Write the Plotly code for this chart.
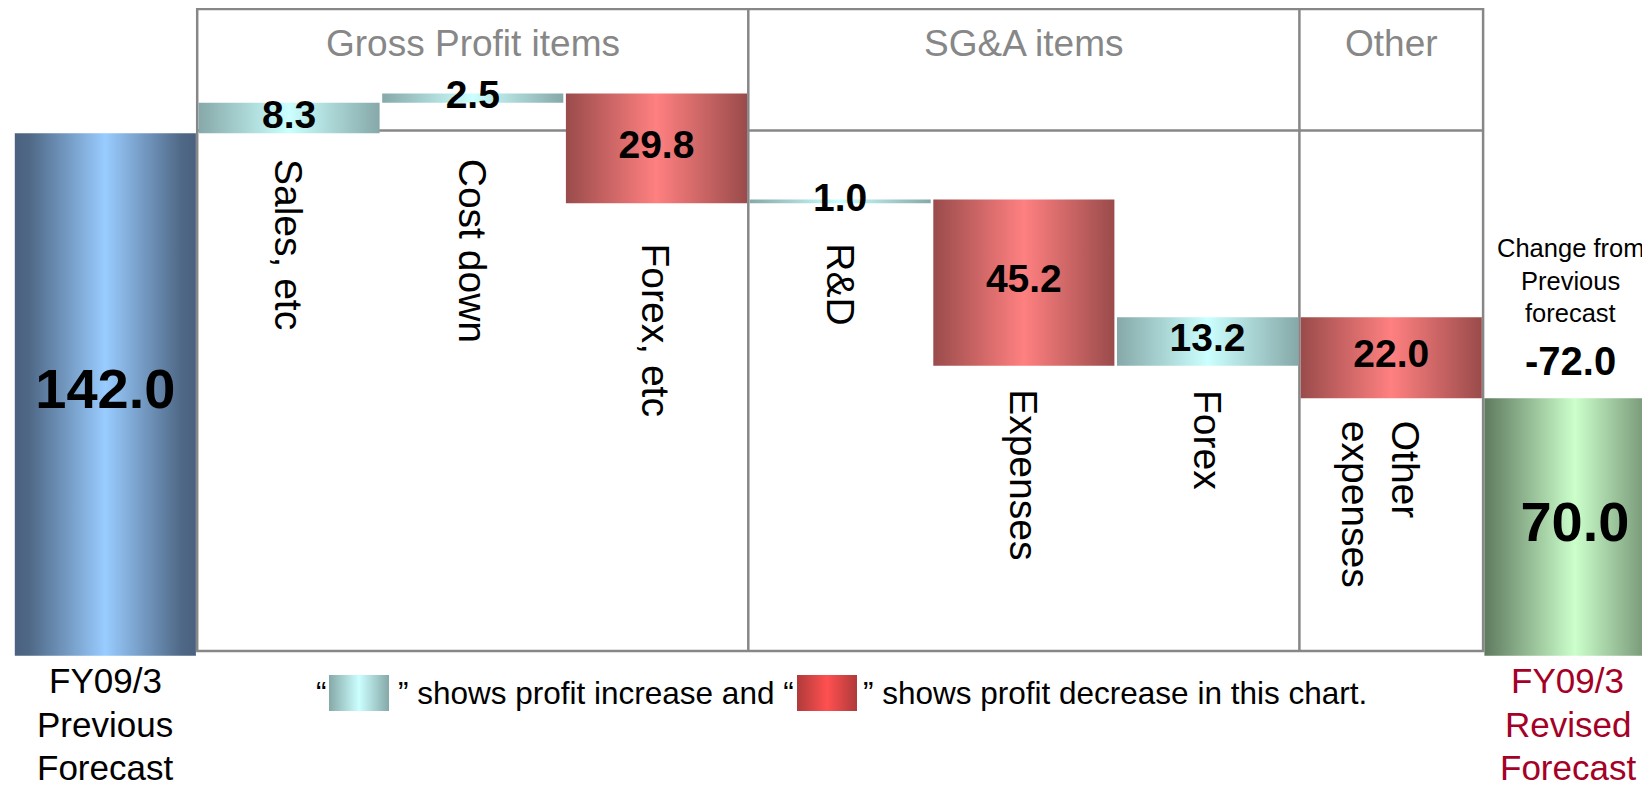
import plotly.graph_objects as go

# === Data ===
categories = ["FY09/3 Previous Forecast", "Sales, etc", "Cost down", "Forex, etc",
              "R&D", "Expenses", "Forex", "Other expenses", "FY09/3 Revised Forecast"]
start_value = 142.0
end_value = 70.0
item_deltas = [8.3, 2.5, -29.8, 1.0, -45.2, 13.2, -22.0]
item_labels = ["Sales, etc", "Cost down", "Forex, etc", "R&D",
               "Expenses", "Forex", "Other<br>expenses"]
groups = ["Gross Profit items", "SG&A items", "Other"]
group_spans = [(1, 3), (4, 6), (7, 7)]
start_label = ["FY09/3", "Previous", "Forecast"]
end_label = ["FY09/3", "Revised", "Forecast"]

# === Layout constants (pixels of the 1650x790 page) ===
PAGE_W, PAGE_H = 1650, 790
BODY = 8                # default page margin around the figure
W, H = PAGE_W - BODY, PAGE_H - BODY
CAT_PX = 183.7          # width of one category
LEFT_PX = 13.5          # left edge of the first bar
UNIT_PX = 3.679         # pixels per unit of value
ZERO_PX = 655.7         # pixel row of value 0


def px_x(p):
    return -0.5 + (p - LEFT_PX) / CAT_PX


def px_y(p):
    return (ZERO_PX - p) / UNIT_PX


X_RANGE = [px_x(BODY), px_x(PAGE_W)]
Y_RANGE = [px_y(PAGE_H), px_y(BODY)]

FONT = "Liberation Sans, Arial, sans-serif"
GRAY = "#878787"
HW = 0.5 - 1.3 / CAT_PX  # half bar width, leaves a gap for the frame lines

SCALES = {
    "start": [[0, "#4a6280"], [0.08, "#4f6886"], [0.5, "#99ccff"], [0.92, "#4f6886"], [1, "#4a6280"]],
    "up": [[0, "#86a8a8"], [0.5, "#ccffff"], [1, "#86a8a8"]],
    "down": [[0, "#9a4b4b"], [0.5, "#ff8080"], [1, "#9a4b4b"]],
    "end": [[0, "#5f7a5f"], [0.5, "#ccffcc"], [1, "#5f7a5f"]],
    "legend_down": [[0, "#b03a3a"], [0.5, "#ff5050"], [1, "#b03a3a"]],
}

# rotated label top positions (pixel rows) and horizontal nudges
label_top_px = [156.5, 156.5, 241.5, 241.5, 387.5, 387.5, 418.5]
label_shift = [0, 0, 0, 0, 0, 0, -11]

# === Build bar extents ===
bars = [(0, 0.0, start_value, "start")]
running = start_value
for i, d in enumerate(item_deltas, start=1):
    lo, hi = sorted([running, running + d])
    bars.append((i, lo, hi, "up" if d > 0 else "down"))
    running = round(running + d, 1)
bars.append((len(categories) - 1, 0.0, end_value, "end"))
change = round(end_value - start_value, 1)

fig = go.Figure()


def gradient_rect(x0, x1, y0, y1, scale):
    return go.Scatter(
        x=[x0, x1, x1, x0, x0], y=[y0, y0, y1, y1, y0],
        mode="lines", line=dict(width=0), fill="toself",
        fillgradient=dict(type="horizontal", colorscale=scale),
        hoverinfo="skip", showlegend=False)


for i, lo, hi, kind in bars:
    fig.add_trace(gradient_rect(i - HW, i + HW, lo, hi, SCALES[kind]))

# value labels
values = [start_value] + [abs(d) for d in item_deltas] + [end_value]
fig.add_trace(go.Scatter(
    x=[b[0] for b in bars],
    y=[(b[1] + b[2]) / 2 for b in bars],
    mode="text",
    text=["<b>%.1f</b>" % v for v in values],
    textfont=dict(family=FONT, size=[56] + [39] * len(item_deltas) + [56], color="black"),
    textposition="middle center",
    hoverinfo="skip", showlegend=False, cliponaxis=False))

# legend swatches
sw_y0, sw_y1 = px_y(711), px_y(675)
fig.add_trace(gradient_rect(px_x(329), px_x(389), sw_y0, sw_y1, SCALES["up"]))
fig.add_trace(gradient_rect(px_x(797), px_x(857), sw_y0, sw_y1, SCALES["legend_down"]))

# === Frame ===
box_top, box_head, box_bottom = px_y(9), px_y(130.5), px_y(651)
line = dict(color=GRAY, width=2.5)
shapes = [
    dict(type="rect", x0=0.5, x1=7.5, y0=box_bottom, y1=box_top, line=line, layer="below"),
    dict(type="line", x0=0.5, x1=7.5, y0=box_head, y1=box_head, line=line, layer="below"),
]
for a, b in group_spans[:-1]:
    shapes.append(dict(type="line", x0=b + 0.5, x1=b + 0.5, y0=box_bottom, y1=box_top,
                       line=line, layer="below"))

annotations = []
for name, (a, b) in zip(groups, group_spans):
    annotations.append(dict(x=(a + b) / 2, y=px_y(43), text=name, showarrow=False,
                            font=dict(family=FONT, size=37, color=GRAY)))

for i, (lab, top, sh) in enumerate(zip(item_labels, label_top_px, label_shift), start=1):
    annotations.append(dict(x=i, xshift=sh, y=px_y(top), text=lab, showarrow=False,
                            textangle=90, xanchor="center", yanchor="top", align="left",
                            font=dict(family=FONT, size=39, color="black")))

# category captions under the total bars, one line each
for row_px, s_txt, e_txt in zip([680, 724, 767], start_label, end_label):
    annotations.append(dict(x=0, y=px_y(row_px), text=s_txt, showarrow=False,
                            font=dict(family=FONT, size=35, color="black")))
    annotations.append(dict(x=8, xshift=-7, y=px_y(row_px), text=e_txt, showarrow=False,
                            font=dict(family=FONT, size=35, color="#a50026")))

for row_px, txt in zip([248, 281, 313], ["Change from", "Previous", "forecast"]):
    annotations.append(dict(x=8, xshift=-4, y=px_y(row_px), text=txt, showarrow=False,
                            font=dict(family=FONT, size=25.5, color="black")))
annotations.append(dict(x=8, xshift=-4, y=px_y(361), text="<b>%.1f</b>" % change,
                        showarrow=False, font=dict(family=FONT, size=40, color="black")))

legend_font = dict(family=FONT, size=31.5, color="black")
annotations.append(dict(x=px_x(314), y=px_y(693), text="\u201c", showarrow=False,
                        xanchor="left", font=legend_font))
annotations.append(dict(x=px_x(396), y=px_y(693),
                        text="\u201d shows profit increase and \u201c", showarrow=False,
                        xanchor="left", font=legend_font))
annotations.append(dict(x=px_x(861), y=px_y(693),
                        text="\u201d shows profit decrease in this chart.", showarrow=False,
                        xanchor="left", font=legend_font))

fig.update_layout(
    width=W, height=H,
    margin=dict(l=0, r=0, t=0, b=0),
    paper_bgcolor="white", plot_bgcolor="white",
    xaxis=dict(range=X_RANGE, visible=False, fixedrange=True),
    yaxis=dict(range=Y_RANGE, visible=False, fixedrange=True),
    shapes=shapes, annotations=annotations,
    showlegend=False,
)

fig.write_html("out.html")
